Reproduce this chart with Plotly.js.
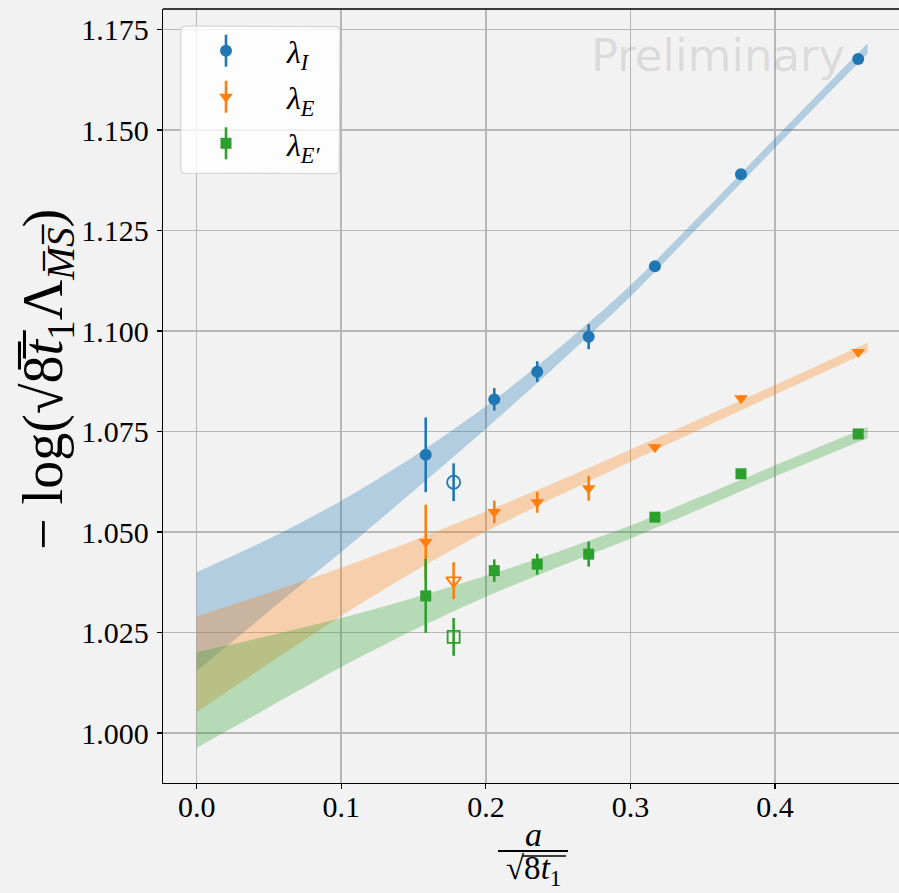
<!DOCTYPE html>
<html><head><meta charset="utf-8">
<script src="https://cdn.plot.ly/plotly-3.0.1.min.js"></script>
<style>html,body{margin:0;padding:0;background:#f2f2f2;overflow:hidden}</style>
</head><body><div id="chart" style="width:899px;height:893px"></div>
<script>
// ---- data ----
const xLat   = [0.1584, 0.2058, 0.2355, 0.2711, 0.3169, 0.3764, 0.4575];
const lamI   = [1.0692, 1.0830, 1.0899, 1.0986, 1.1161, 1.1390, 1.1677];
const lamIErr= [0.0093, 0.0028, 0.0026, 0.0031, 0.0008, 0.0007, 0.0006];
const lamE   = [1.0475, 1.0550, 1.0574, 1.0609, 1.0711, 1.0833, 1.0948];
const lamEErr= [0.0093, 0.0028, 0.0026, 0.0031, 0.0008, 0.0007, 0.0006];
const lamEp  = [1.0341, 1.0404, 1.0420, 1.0445, 1.0537, 1.0645, 1.0744];
const lamEpErr=[0.0092, 0.0028, 0.0026, 0.0031, 0.0008, 0.0007, 0.0006];
// excluded (open) points
const xOpen     = [0.1777];
const lamIOpen  = [1.0624]; const lamIOpenErr  = [0.0047];
const lamEOpen  = [1.0379]; const lamEOpenErr  = [0.0046];
const lamEpOpen = [1.0239]; const lamEpOpenErr = [0.0047];
// fit bands
const bandX   = [0, 0.05, 0.1, 0.15, 0.2, 0.25, 0.3, 0.35, 0.4, 0.464];
const bandIUp = [1.0400, 1.0483, 1.0578, 1.0688, 1.0813, 1.0956, 1.1114, 1.1294, 1.1480, 1.1716];
const bandILo = [1.0154, 1.0303, 1.0450, 1.0602, 1.0757, 1.0918, 1.1086, 1.1270, 1.1456, 1.1690];
const bandEUp = [1.0290, 1.0349, 1.0411, 1.0479, 1.0551, 1.0626, 1.0705, 1.0785, 1.0866, 1.0971];
const bandELo = [1.0052, 1.0173, 1.0291, 1.0401, 1.0501, 1.0590, 1.0675, 1.0759, 1.0842, 1.0947];
const bandEpUp= [1.0201, 1.0242, 1.0286, 1.0336, 1.0391, 1.0451, 1.0516, 1.0590, 1.0666, 1.0761];
const bandEpLo= [0.9963, 1.0064, 1.0164, 1.0256, 1.0339, 1.0413, 1.0484, 1.0560, 1.0638, 1.0733];
const seriesNames = ['λ<sub>I</sub>', 'λ<sub>E</sub>', "λ<sub>E′</sub>"];
const xTicks = [0, 0.1, 0.2, 0.3, 0.4];
const xTickText = ['0.0', '0.1', '0.2', '0.3', '0.4'];
const yTicks = [1.000, 1.025, 1.050, 1.075, 1.100, 1.125, 1.150, 1.175];
const yTickText = ['1.000', '1.025', '1.050', '1.075', '1.100', '1.125', '1.150', '1.175'];

const C = ['#1f77b4', '#ff7f0e', '#2ca02c'];
const CF = ['rgba(31,119,180,0.3)', 'rgba(255,127,14,0.3)', 'rgba(44,160,44,0.3)'];
const SYM = ['circle', 'triangle-down', 'square'];
const SZ = [12, 12, 11];

const traces = [];
[[bandILo, bandIUp], [bandELo, bandEUp], [bandEpLo, bandEpUp]].forEach((b, i) => {
  traces.push({x: bandX, y: b[0], mode: 'lines', line: {width: 0, shape: 'spline', smoothing: 0.8}, hoverinfo: 'skip'});
  traces.push({x: bandX, y: b[1], mode: 'lines', line: {width: 0, shape: 'spline', smoothing: 0.8}, fill: 'tonexty', fillcolor: CF[i], hoverinfo: 'skip'});
});
const main = [[lamI, lamIErr], [lamE, lamEErr], [lamEp, lamEpErr]];
const opens = [[lamIOpen, lamIOpenErr], [lamEOpen, lamEOpenErr], [lamEpOpen, lamEpOpenErr]];
main.forEach((s, i) => {
  traces.push({x: xLat, y: s[0], mode: 'markers', marker: {symbol: SYM[i], size: SZ[i], color: C[i]},
    error_y: {type: 'data', array: s[1], visible: true, thickness: 2.6, width: 0, color: C[i]}});
  traces.push({x: xOpen, y: opens[i][0], mode: 'markers', marker: {symbol: SYM[i] + '-open', size: SZ[i] + 1, color: C[i], line: {width: 1.8, color: C[i]}},
    error_y: {type: 'data', array: opens[i][1], visible: true, thickness: 2.6, width: 0, color: C[i]}});
});

// ---- legend, drawn on a pixel-unit overlay axis ----
const PL = 163, PR = 899, PT = 9, PB = 783;
const px = v => (v - PL) / (PR - PL);
const py = v => (PB - v) / (PB - PT);
const rr = 5, bx0 = 180.7, bx1 = 340, by0 = 26, by1 = 173.7;
const boxX = [], boxY = [];
function arc(cx, cy, a0, a1) { for (let k = 0; k <= 6; k++) { const a = a0 + (a1 - a0) * k / 6; boxX.push(cx + rr * Math.cos(a)); boxY.push(cy + rr * Math.sin(a)); } }
arc(bx0 + rr, by0 + rr, Math.PI, 1.5 * Math.PI);
arc(bx1 - rr, by0 + rr, 1.5 * Math.PI, 2 * Math.PI);
arc(bx1 - rr, by1 - rr, 0, 0.5 * Math.PI);
arc(bx0 + rr, by1 - rr, 0.5 * Math.PI, Math.PI);
boxX.push(boxX[0]); boxY.push(boxY[0]);
traces.push({x: boxX, y: boxY, xaxis: 'x2', yaxis: 'y2', mode: 'lines', fill: 'toself',
  fillcolor: 'rgba(255,255,255,0.8)', line: {color: 'rgba(204,204,204,0.8)', width: 1.2}, hoverinfo: 'skip'});
const legRowY = [50.7, 96.7, 143.3];
const legX = 226, legTextX = 284;
seriesNames.forEach((n, i) => {
  traces.push({x: [legX], y: [legRowY[i]], xaxis: 'x2', yaxis: 'y2', mode: 'markers',
    marker: {symbol: SYM[i], size: SZ[i], color: C[i]},
    error_y: {type: 'data', array: [16], visible: true, thickness: 2.6, width: 0, color: C[i]}, hoverinfo: 'skip'});
});

const serif = 'Liberation Serif, DejaVu Serif, serif';
const annotations = [
  {xref: 'paper', yref: 'paper', x: px(718), y: py(55), text: 'Preliminary', showarrow: false,
   font: {family: 'DejaVu Sans', size: 45, color: 'rgba(0,0,0,0.115)'}, xanchor: 'center', yanchor: 'middle'},
  {xref: 'paper', yref: 'paper', x: px(47), y: py(380), text: '− log(√8̅<i>t̅</i><sub>1</sub>Λ<sub><i>M̅S̅</i></sub>)', textangle: -90,
   showarrow: false, font: {family: serif, size: 56, color: '#000'}, xanchor: 'center', yanchor: 'middle'},
  {xref: 'paper', yref: 'paper', x: px(533), y: py(834), text: '<i>a</i>', showarrow: false,
   font: {family: serif, size: 34, color: '#000'}, xanchor: 'center', yanchor: 'middle'},
  {xref: 'paper', yref: 'paper', x: px(533), y: py(871), text: '√8<i>t</i><sub>1</sub>', showarrow: false,
   font: {family: serif, size: 33, color: '#000'}, xanchor: 'center', yanchor: 'middle'}
];
seriesNames.forEach((n, i) => {
  annotations.push({xref: 'x2', yref: 'y2', x: legTextX, y: legRowY[i] + 4, text: '<i>' + n.replace('<sub>', '</i><sub><i>').replace('</sub>', '</i></sub>'),
    showarrow: false, xanchor: 'left', yanchor: 'middle', font: {family: serif, size: 32, color: '#000'}});
});

const layout = {
  width: 899, height: 893,
  paper_bgcolor: '#f2f2f2', plot_bgcolor: '#f2f2f2',
  margin: {l: PL, r: 0, t: PT, b: 893 - PB, pad: 0},
  showlegend: false,
  xaxis: {range: [-0.0233, 0.4857], tickvals: xTicks, ticktext: xTickText, showgrid: true, gridcolor: '#b6b6b6', gridwidth: 1.6,
    zeroline: false, showline: true, linecolor: '#000', linewidth: 1.3, ticks: 'outside', ticklen: 5, tickcolor: '#000', tickwidth: 1.2,
    tickfont: {family: serif, size: 30, color: '#000'}, ticklabelstandoff: -8},
  yaxis: {range: [0.98756, 1.18012], tickvals: yTicks, ticktext: yTickText, showgrid: true, gridcolor: '#b6b6b6', gridwidth: 1.6,
    zeroline: false, showline: true, linecolor: '#000', linewidth: 1.3, ticks: 'outside', ticklen: 5, tickcolor: '#000', tickwidth: 1.2,
    tickfont: {family: serif, size: 30, color: '#000'}, ticklabelstandoff: 2},
  xaxis2: {overlaying: 'x', anchor: 'y2', range: [PL, PR], visible: false, fixedrange: true},
  yaxis2: {overlaying: 'y', anchor: 'x2', range: [PB, PT], visible: false, fixedrange: true},
  shapes: [
    {type: 'line', xref: 'paper', yref: 'paper', x0: 0, x1: 1, y0: 1, y1: 1, line: {color: '#000', width: 1.3}, layer: 'above'},
    {type: 'line', xref: 'paper', yref: 'paper', x0: px(498), x1: px(568), y0: py(851), y1: py(851), line: {color: '#000', width: 2}},
    {type: 'line', xref: 'paper', yref: 'paper', x0: px(522), x1: px(566), y0: py(856), y1: py(856), line: {color: '#000', width: 1.6}}
  ],
  annotations: annotations
};
Plotly.newPlot('chart', traces, layout, {displayModeBar: false, staticPlot: true});
</script></body></html>
